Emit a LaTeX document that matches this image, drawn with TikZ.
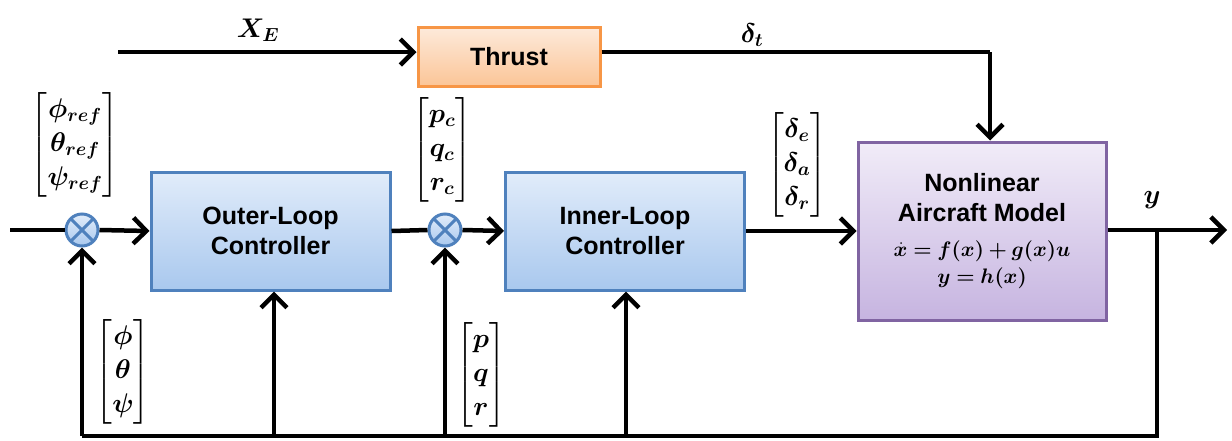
\RequirePackage{fix-cm}
\documentclass[tikz,border=0pt]{standalone}
\usepackage{amsmath,bm}
\usepackage{fontspec}
\setmainfont{Liberation Sans}
\usetikzlibrary{arrows.meta}
\definecolor{bluedge}{HTML}{4F81BD}
\definecolor{bluetop}{HTML}{E1ECFA}
\definecolor{bluebot}{HTML}{A9C8EE}
\definecolor{orgedge}{HTML}{F79646}
\definecolor{orgtop}{HTML}{FDEADB}
\definecolor{orgbot}{HTML}{FBC597}
\definecolor{puredge}{HTML}{8064A2}
\definecolor{purtop}{HTML}{F1ECF8}
\definecolor{purbot}{HTML}{C6B4E0}
\tikzset{
  blk/.style={draw, rectangle, line width=3pt, align=center, inner sep=0pt,
    font=\fontsize{25}{30}\selectfont\bfseries},
  ctrl/.style={blk, draw=bluedge, top color=bluetop, bottom color=bluebot,
    minimum width=239pt, minimum height=118pt},
  sumnode/.style={draw=bluedge, line width=3pt, circle, minimum size=32pt, inner sep=0pt,
    top color=bluetop, bottom color=bluebot,
    path picture={\draw[bluedge, line width=3pt]
      (path picture bounding box.north west) -- (path picture bounding box.south east)
      (path picture bounding box.north east) -- (path picture bounding box.south west);}},
  wire/.style={line width=4.5pt},
  arr/.style={wire, -{Straight Barb[length=13pt, width=26pt, line width=4.5pt]}},
  sig/.style={inner sep=0pt, font=\fontsize{27}{34}\selectfont},
}
\begin{document}
\begin{tikzpicture}[x=1pt, y=-1pt]
\useasboundingbox (0,0) rectangle (1232,440);

% blocks
\node[blk, draw=orgedge, top color=orgtop, bottom color=orgbot,
      minimum width=182pt, minimum height=59pt] (thrust) at (509,56.5) {Thrust};
\node[ctrl] (outer) at (270.5,231) {Outer-Loop\\Controller};
\node[ctrl] (inner) at (625,231) {Inner-Loop\\Controller};
\node[blk, draw=puredge, top color=purtop, bottom color=purbot,
      minimum width=248pt, minimum height=178pt] (plant) at (982,231)
  {Nonlinear\\Aircraft Model\\[5pt]
   {\fontsize{21}{26}\selectfont$\bm{\dot{x} = f(x) + g(x)u}$}\\[-3pt]
   {\fontsize{21}{26}\selectfont$\bm{y = h(x)}$}};

% summing junctions
\node[sumnode] (s1) at (82,230) {};
\node[sumnode] (s2) at (445,230) {};

% helper points
\coordinate (xin) at (10,230);
\coordinate (xe) at (118,52);
\coordinate (dt) at (990,52);
\coordinate (yout) at (1227,230);
\coordinate (tap) at (1157,230);
\coordinate (fb) at (1157,436);
\coordinate (fb1) at (82,436);
\coordinate (fb2) at (274,436);
\coordinate (fb3) at (445,436);
\coordinate (fb4) at (626,436);

% forward path
\draw[wire] (xin) -- (s1.west);
\draw[arr] (s1.east) -- (outer.west);
\draw[wire] (outer.east) -- (s2.west);
\draw[arr] (s2.east) -- (inner.west);
\draw[arr] (inner.east) -- (inner.east -| plant.west);
\draw[arr] (plant.east |- yout) -- (yout);

% thrust channel
\draw[arr] (xe) -- (xe -| thrust.west);
\draw[wire] (thrust.east |- xe) -- (dt);
\draw[arr] (dt) -- (dt |- plant.north);

% feedback paths
\draw[wire, line join=miter] (tap) -- (fb) -- (fb1);
\draw[arr] (fb1) -- (s1.south);
\draw[arr] (fb2) -- (outer.south -| fb2);
\draw[arr] (fb3) -- (s2.south);
\draw[arr] (fb4) -- (inner.south -| fb4);

% signal labels
\node[sig] (lxe) at (258,30) {$\bm{X_E}$};
\node[sig] (ldt) at (752,35) {$\bm{\delta_t}$};
\node[sig] (ly) at (1152,200) {$\bm{y}$};
\node[sig] (lref) at (75,145)
  {$\begin{bmatrix}\bm{\phi_{ref}}\\ \bm{\theta_{ref}}\\ \bm{\psi_{ref}}\end{bmatrix}$};
\node[sig] (lpqrc) at (442,150)
  {$\begin{bmatrix}\bm{p_c}\\ \bm{q_c}\\ \bm{r_c}\end{bmatrix}$};
\node[sig] (ldel) at (797,165)
  {$\begin{bmatrix}\bm{\delta_e}\\ \bm{\delta_a}\\ \bm{\delta_r}\end{bmatrix}$};
\node[sig] (latt) at (123,372)
  {$\begin{bmatrix}\bm{\phi}\\ \bm{\theta}\\ \bm{\psi}\end{bmatrix}$};
\node[sig] (lpqr) at (481,375)
  {$\begin{bmatrix}\bm{p}\\ \bm{q}\\ \bm{r}\end{bmatrix}$};
\end{tikzpicture}
\end{document}
